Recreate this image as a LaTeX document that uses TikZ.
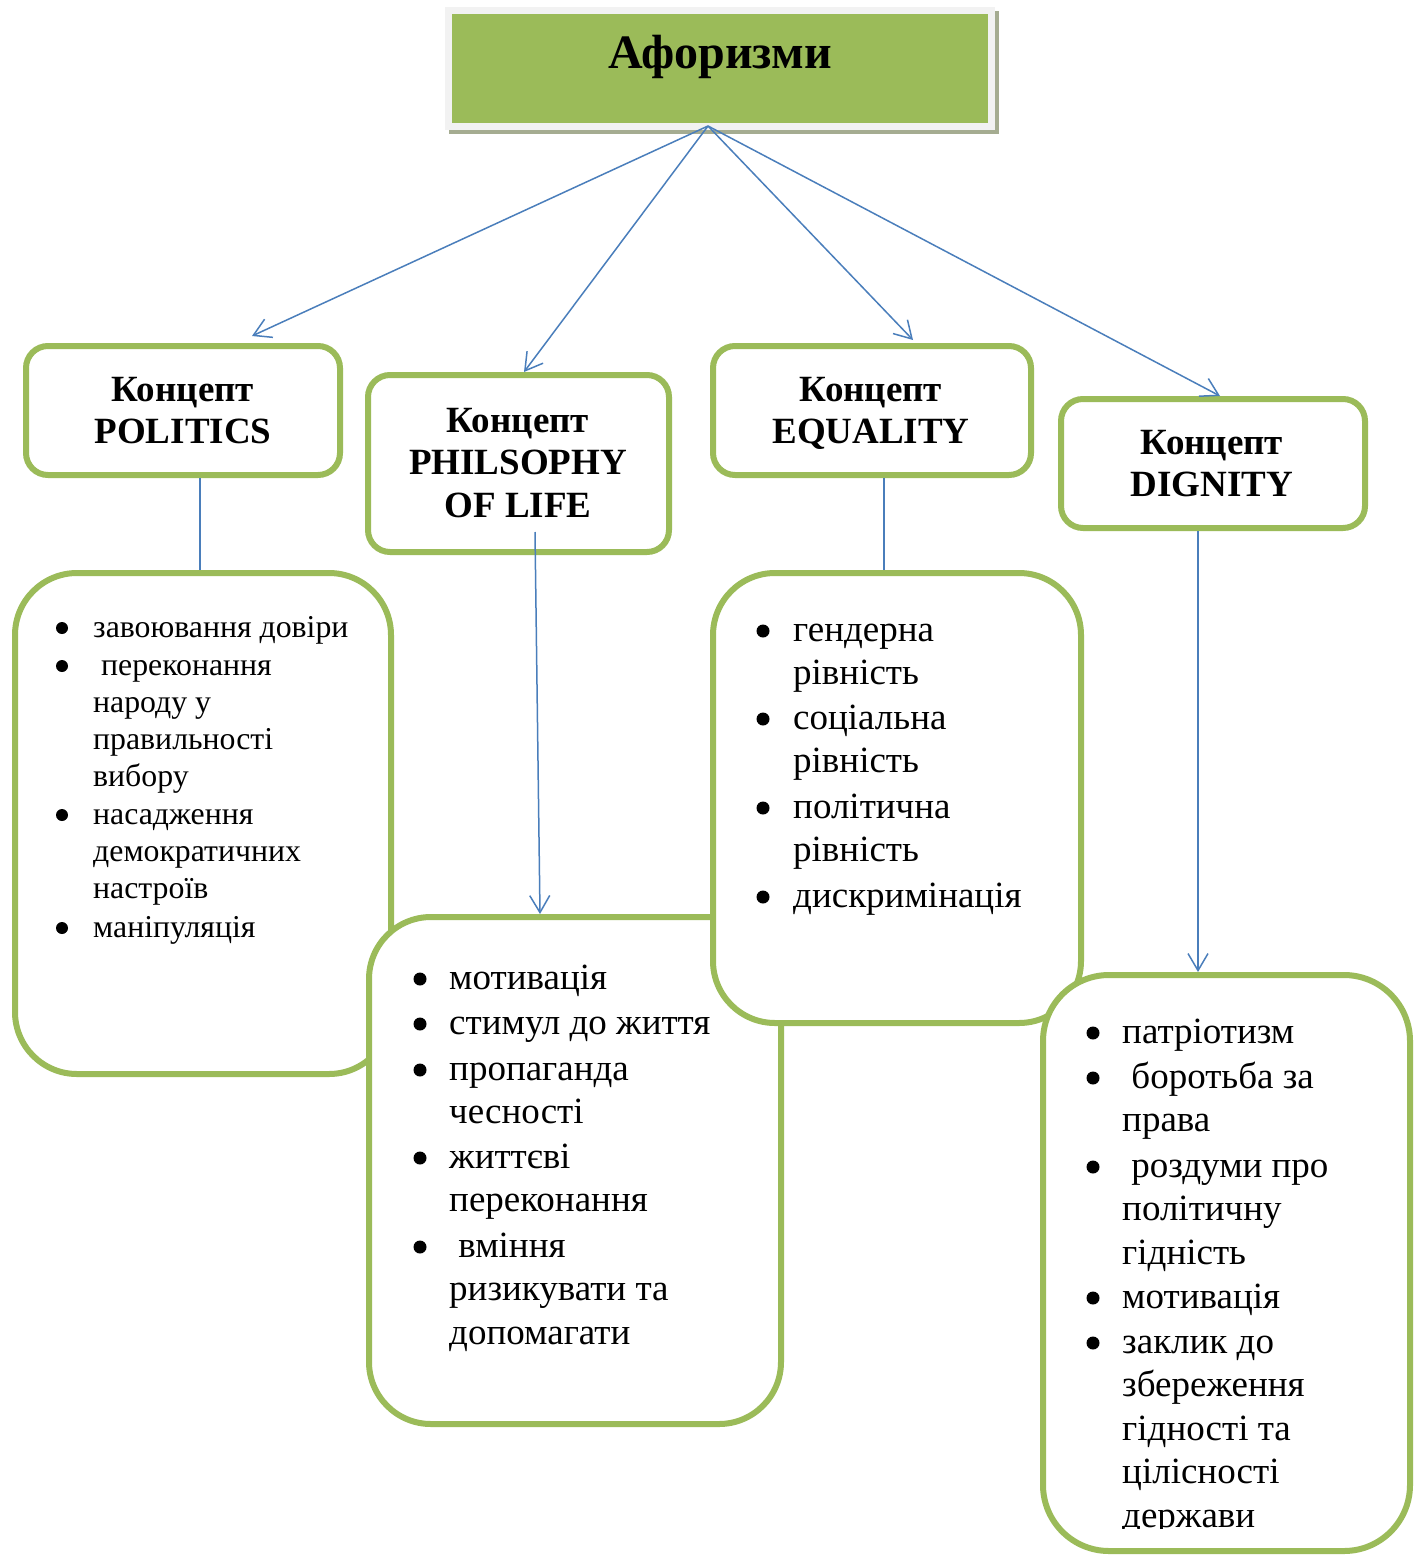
\documentclass[tikz,border=0pt]{standalone}
\usepackage{fontspec}
\setmainfont{Liberation Serif}
\usetikzlibrary{arrows.meta}
\definecolor{gbord}{HTML}{9BBB59}
\definecolor{ablue}{HTML}{4A7EBB}
\definecolor{hlight}{HTML}{F2F2F2}
\definecolor{hshadow}{RGB}{165,172,145}
\tikzset{
 cbox/.style={draw=gbord, line width=6pt, fill=white, rounded corners=22pt, inner sep=0pt},
 lbox/.style={draw=gbord, line width=6pt, fill=white, rounded corners=62pt, inner sep=0pt},
 arr/.style={draw=ablue, line width=1.5pt, -{Straight Barb[length=17pt,width=20pt]}},
 cline/.style={draw=ablue, line width=1.5pt},
 ctext/.style={anchor=base, inner sep=0pt, font=\fontsize{37}{42}\selectfont\bfseries},
 ltext/.style={anchor=base west, inner sep=0pt, font=\fontsize{37}{43.5}\selectfont},
 stext/.style={anchor=base west, inner sep=0pt, font=\fontsize{31.8}{37}\selectfont},
}
\newcommand\LI[8]{% name, bullet x, text x, baseline, style, bullet dy, bullet r, text
 \fill ({#2},{#4-#6}) circle (#7);
 \node[#5] (#1) at ({#3},{#4}) {\parbox[t]{340pt}{\raggedright #8}};
}
\begin{document}
\begin{tikzpicture}[x=1pt,y=-1pt]
\useasboundingbox (0,0) rectangle (1420,1555);
% header
\node[fill=hshadow, minimum width=549.5pt, minimum height=122.5pt, inner sep=0pt] (hs) at (723.75,72.25) {};
\node[fill=gbord, draw=hlight, line width=7pt, minimum width=542.5pt, minimum height=115.5pt, inner sep=0pt] (hd) at (719.75,68.25) {};
\node[anchor=base, inner sep=0pt, font=\fontsize{48}{56}\selectfont\bfseries] (ht) at (720,68) {Афоризми};
% concept boxes
\node[cbox, minimum width=314pt, minimum height=129pt] (cp) at (183,410.5) {};
\node[cbox, minimum width=301pt, minimum height=177pt] (cf) at (518.5,463.5) {};
\node[cbox, minimum width=318pt, minimum height=129pt] (ce) at (872,410.5) {};
\node[cbox, minimum width=304pt, minimum height=129pt] (cd) at (1213,463.5) {};
% arrows from header
\coordinate (src) at (708,126);
\coordinate (tp) at (252,336);
\coordinate (tf) at (524,372);
\coordinate (te) at (913,340);
\coordinate (td) at (1220,396);
\draw[arr] (src) -- (tp);
\draw[arr] (src) -- (tf);
\draw[arr] (src) -- (te);
\draw[arr] (src) -- (td);
% list boxes
\node[lbox, minimum width=376pt, minimum height=501pt] (lp) at (203,823.5) {};
\node[lbox, minimum width=412pt, minimum height=507pt] (lf) at (575,1170.5) {};
\node[lbox, minimum width=368pt, minimum height=450pt] (le) at (897,798) {};
\node[lbox, minimum width=367pt, minimum height=576pt, rounded corners=66pt] (ld) at (1226.5,1263) {};
% connectors
\draw[cline] (200,0 |- cp.south) -- (200,0 |- lp.north);
\coordinate (fo) at (535,532);
\draw[arr] (fo) -- (540,0 |- lf.north);
\draw[cline] (884,0 |- ce.south) -- (884,0 |- le.north);
\draw[arr] (1198,0 |- cd.south) -- (1198,0 |- ld.north);
% concept texts
\node[ctext] (cpt) at (183,401) {\parbox[t]{300pt}{\centering Концепт\\POLITICS}};
\node[ctext] (cft) at (518,432) {\parbox[t]{300pt}{\centering\baselineskip=42.5pt Концепт\\PHILSOPHY\\OF LIFE}};
\node[ctext] (cet) at (871,401) {\parbox[t]{300pt}{\centering Концепт\\EQUALITY}};
\node[ctext] (cdt) at (1212,454) {\parbox[t]{300pt}{\centering Концепт\\DIGNITY}};
% politics list
\LI{p1}{62}{93}{637}{stext}{9}{6}{завоювання довіри}
\LI{p2}{62}{93}{675}{stext}{9}{6}{\hspace*{0.25em}переконання\\народу у\\правильності\\вибору}
\LI{p3}{62}{93}{824}{stext}{9}{6}{насадження\\демократичних\\настроїв}
\LI{p4}{62}{93}{937}{stext}{9}{6}{маніпуляція}
% philosophy list
\LI{f1}{420}{449}{989}{ltext}{10}{6.5}{мотивація}
\LI{f2}{420}{449}{1034}{ltext}{10}{6.5}{стимул до життя}
\LI{f3}{420}{449}{1080}{ltext}{10}{6.5}{пропаганда\\чесності}
\LI{f4}{420}{449}{1168}{ltext}{10}{6.5}{життєві\\переконання}
\LI{f5}{420}{449}{1257}{ltext}{10}{6.5}{\hspace*{0.25em}вміння\\ризикувати та\\допомагати}
% equality list
\LI{e1}{763}{793}{641}{ltext}{10}{6.5}{гендерна\\рівність}
\LI{e2}{763}{793}{729}{ltext}{10}{6.5}{соціальна\\рівність}
\LI{e3}{763}{793}{818}{ltext}{10}{6.5}{політична\\рівність}
\LI{e4}{763}{793}{907}{ltext}{10}{6.5}{дискримінація}
% dignity list
\begin{scope}
\clip (1043,975) rectangle (1410,1528);
\LI{d1}{1093}{1122}{1043}{ltext}{10}{6.5}{патріотизм}
\LI{d2}{1093}{1122}{1088}{ltext}{10}{6.5}{\hspace*{0.25em}боротьба за\\права}
\LI{d3}{1093}{1122}{1177}{ltext}{10}{6.5}{\hspace*{0.25em}роздуми про\\політичну\\гідність}
\LI{d4}{1093}{1122}{1308}{ltext}{10}{6.5}{мотивація}
\LI{d5}{1093}{1122}{1353}{ltext}{10}{6.5}{заклик до\\збереження\\гідності та\\цілісності\\держави}
\end{scope}
\end{tikzpicture}
\end{document}
